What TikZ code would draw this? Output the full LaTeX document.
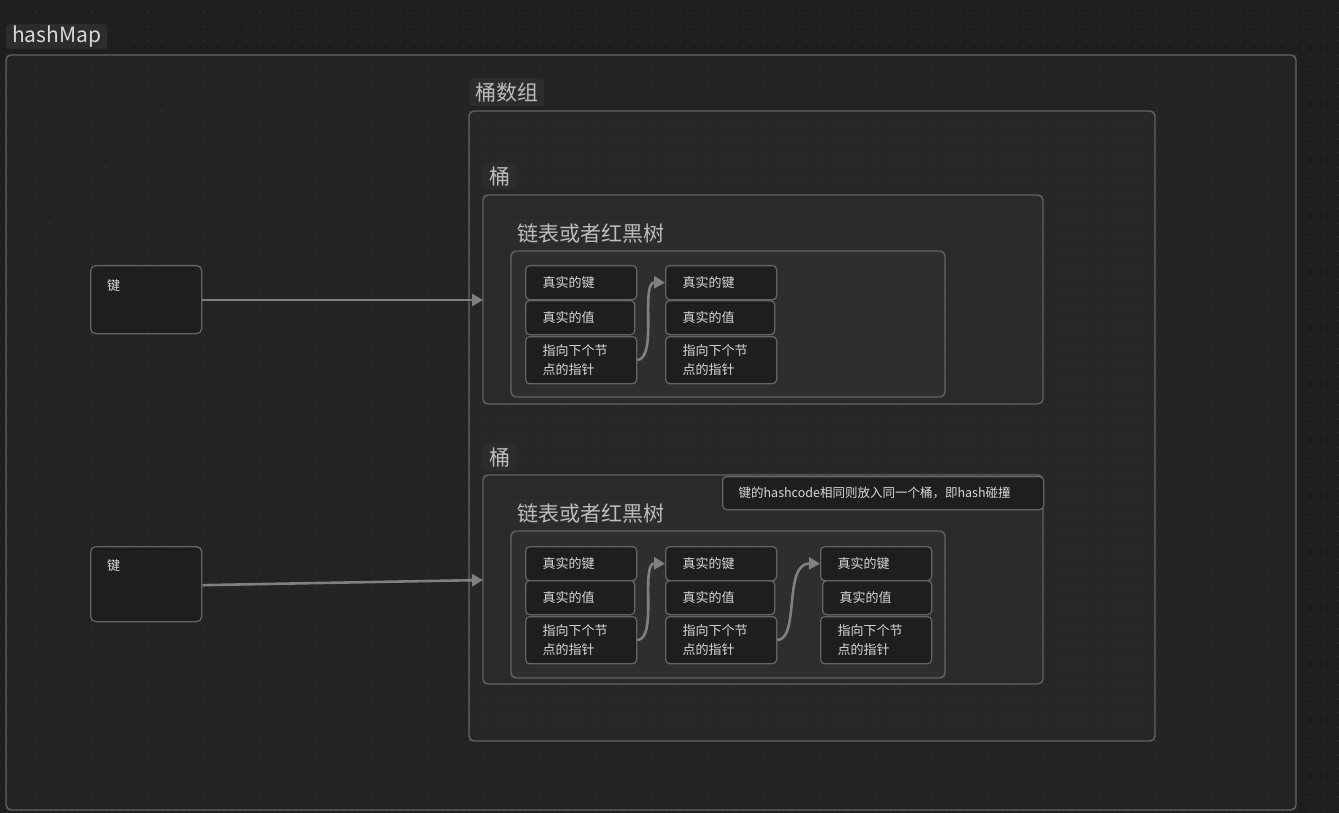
\documentclass[tikz,border=0pt]{standalone}
\usepackage{fontspec}
\setmainfont{Noto Sans CJK SC}
\usetikzlibrary{arrows.meta}

\definecolor{canvas}{HTML}{1E1E1E}
\definecolor{gridDot}{HTML}{323232}
\definecolor{mapFill}{HTML}{232323}
\definecolor{arrFill}{HTML}{272727}
\definecolor{bucketFill}{HTML}{2A2A2A}
\definecolor{listFill}{HTML}{2E2E2E}
\definecolor{edgeCol}{HTML}{646464}
\definecolor{cellFill}{HTML}{1E1E1E}
\definecolor{cellText}{HTML}{D8D8D8}
\definecolor{titleText}{HTML}{BDBDBD}
\definecolor{tagFill}{HTML}{2C2C2C}
\definecolor{linkCol}{HTML}{808080}

\tikzset{
  frame/.style={draw=edgeCol, line width=1.4pt, rounded corners=5pt},
  tag/.style={fill=tagFill, rounded corners=3pt, anchor=north west, inner xsep=6pt, inner ysep=0pt,
              text=titleText, font=\fontsize{21}{24}\selectfont, minimum height=28pt},
  cell/.style={draw=edgeCol, line width=1.3pt, fill=cellFill, rounded corners=4pt, anchor=north west,
               text=cellText, font=\fontsize{13}{19}\selectfont, align=left, inner xsep=17pt, inner ysep=0pt},
  cellA/.style={cell, minimum height=34pt, text width=77pt},
  cellB/.style={cell, minimum height=34pt, text width=75pt},
  cellC/.style={cell, minimum height=47pt, text width=77pt},
  keybox/.style={draw=edgeCol, line width=1.3pt, fill=cellFill, rounded corners=5pt, anchor=north west,
                 minimum width=111pt, inner sep=0pt},
  keytext/.style={text=cellText, font=\fontsize{13}{16}\selectfont, inner sep=0pt, anchor=west},
  link/.style={draw=linkCol, line width=2.6pt, -{Triangle[length=11pt,width=12pt]}},
}

\begin{document}
\begin{tikzpicture}[x=1pt, y=-1pt]
  \useasboundingbox (0,0) rectangle (1339,813);
  \fill[canvas] (0,0) rectangle (1339,813);

  % container fills
  \fill[mapFill, rounded corners=5pt] (6,55) rectangle (1296,810);
  \fill[arrFill, rounded corners=5pt] (469,111) rectangle (1155,741);
  \fill[bucketFill, rounded corners=5pt] (483,195) rectangle (1043,404);
  \fill[bucketFill, rounded corners=5pt] (483,475) rectangle (1043,684);
  \fill[listFill, rounded corners=5pt] (511,251) rectangle (945,397);
  \fill[listFill, rounded corners=5pt] (511,531) rectangle (945,678);

  % dotted background grid
  \foreach \i in {0,...,95} {
    \foreach \j in {0,...,57} {
      \fill[gridDot] (\i*14+8,\j*14+13) circle (1pt);
    }
  }

  % container outlines
  \draw[frame] (6,55) rectangle (1296,810);
  \draw[frame] (469,111) rectangle (1155,741);
  \draw[frame] (483,195) rectangle (1043,404);
  \draw[frame] (483,475) rectangle (1043,684);
  \draw[frame] (511,251) rectangle (945,397);
  \draw[frame] (511,531) rectangle (945,678);

  % container titles
  \node[tag, text=cellText, font=\fontsize{21}{24}\selectfont, minimum height=25pt] (tmap) at (6,24) {hashMap};
  \node[tag] (tarr) at (469,78) {桶数组};
  \node[tag] (tb1) at (483,162) {桶};
  \node[tag] (tb2) at (483,443) {桶};
  \node[tag] (tl1) at (511,219) {链表或者红黑树};
  \node[tag] (tl2) at (511,499) {链表或者红黑树};

  % keys
  \node[keybox, minimum height=68pt] (k1) at (90,265) {};
  \node[keytext] (k1t) at (107,286) {键};
  \node[keybox, minimum height=75pt] (k2) at (90,546) {};
  \node[keytext] (k2t) at (107,566) {键};

  % bucket 1 entries
  \node[cellA] (a1) at (525,265) {真实的键};
  \node[cellB] (a2) at (525,300) {真实的值};
  \node[cellC] (a3) at (525,336) {指向下个节\\点的指针};
  \node[cellA] (b1) at (665,265) {真实的键};
  \node[cellB] (b2) at (665,300) {真实的值};
  \node[cellC] (b3) at (665,336) {指向下个节\\点的指针};

  % bucket 2 entries
  \node[cellA] (c1) at (525,546) {真实的键};
  \node[cellB] (c2) at (525,580) {真实的值};
  \node[cellC] (c3) at (525,616) {指向下个节\\点的指针};
  \node[cellA] (d1) at (665,546) {真实的键};
  \node[cellB] (d2) at (665,580) {真实的值};
  \node[cellC] (d3) at (665,616) {指向下个节\\点的指针};
  \node[cellA] (e1) at (820,546) {真实的键};
  \node[cellB, text width=75pt] (e2) at (822,580) {真实的值};
  \node[cellC] (e3) at (820,616) {指向下个节\\点的指针};

  % collision note
  \node[draw=edgeCol, line width=1.3pt, fill=cellFill, rounded corners=4pt, anchor=north west,
        minimum width=321pt, minimum height=33pt, inner xsep=16pt, text=cellText,
        font=\fontsize{12.5}{15}\selectfont, text width=289pt, align=left] (note) at (722,476)
        {键的hashcode相同则放入同一个桶，即hash碰撞};

  % key to bucket links
  \coordinate (in1) at (483,300);
  \coordinate (in2) at (483,580);
  \draw[link] (k1.east |- in1) -- (in1);
  \draw[link] (k2.east) ++(0,1) -- (in2);

  % next-node links
  \draw[link] (a3.east) .. controls (658,358) and (640,282) .. (b1.west);
  \draw[link] (c3.east) .. controls (658,639) and (640,563) .. (d1.west);
  \draw[link] (d3.east) .. controls (800,639) and (783,563) .. (e1.west);
\end{tikzpicture}
\end{document}
